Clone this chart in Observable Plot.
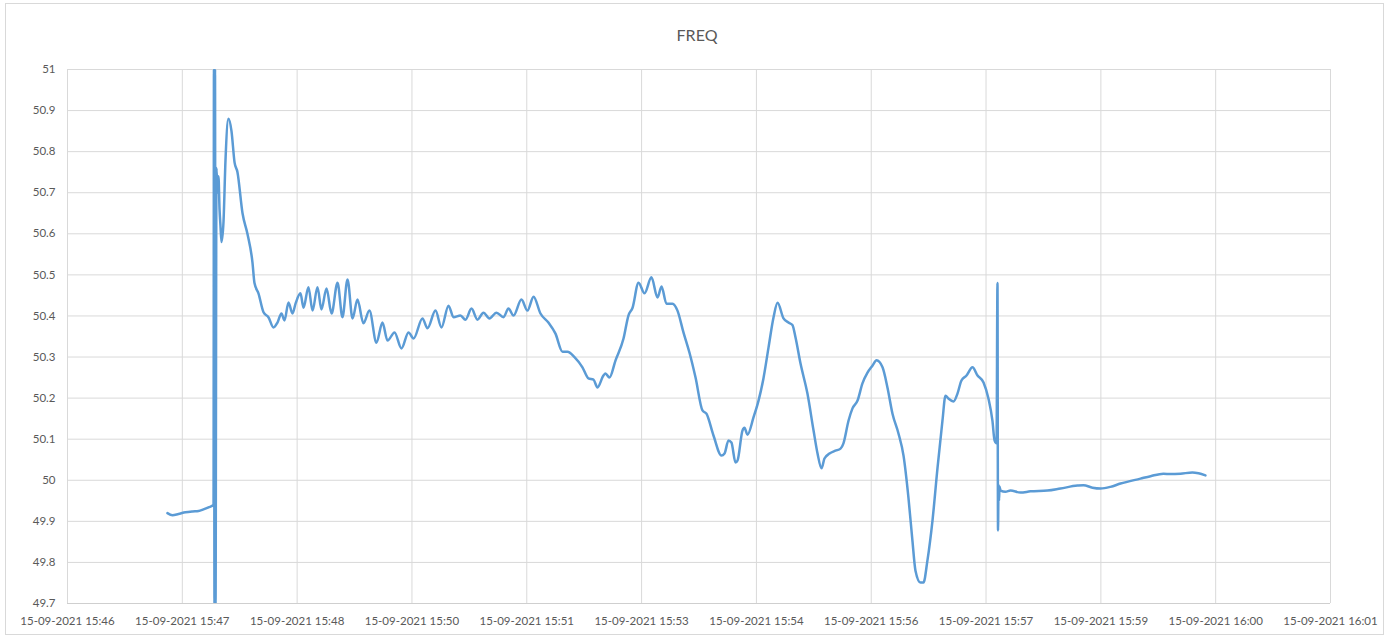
<!DOCTYPE html>
<html><head><meta charset="utf-8">
<script src="https://cdn.jsdelivr.net/npm/d3@7"></script>
<script src="https://cdn.jsdelivr.net/npm/@observablehq/plot@0.6"></script>
<style>
body{margin:0;background:#fff;}
#wrap{position:relative;width:1389px;height:639px;overflow:hidden;font-family:Lato,"Open Sans",sans-serif;}
#border{position:absolute;left:5px;top:3px;width:1379px;height:632px;border:1px solid #d9d9d9;box-sizing:border-box;}
#title{position:absolute;left:0;width:1389px;padding-left:5px;box-sizing:border-box;top:25px;text-align:center;font-size:16px;color:#595959;line-height:19px;}
#chart{position:absolute;left:0;top:0;}
</style></head><body>
<div id="wrap"><div id="border"></div><div id="title"></div><div id="chart"></div></div>
<script>
const chartTitle = "FREQ";
const tickLabels = ["15-09-2021 15:46","15-09-2021 15:47","15-09-2021 15:48","15-09-2021 15:50","15-09-2021 15:51","15-09-2021 15:53","15-09-2021 15:54","15-09-2021 15:56","15-09-2021 15:57","15-09-2021 15:59","15-09-2021 16:00","15-09-2021 16:01"];
// tick positions: seconds after 15:46:00
const tickStart = 6, tickStep = 86.4;
const yTicks = [49.7,49.8,49.9,50,50.1,50.2,50.3,50.4,50.5,50.6,50.7,50.8,50.9,51];
const yTickLabels = ["49.7","49.8","49.9","50","50.1","50.2","50.3","50.4","50.5","50.6","50.7","50.8","50.9","51"];
// time: seconds after 15:46:00 ; freq in Hz
const secs = [81.2,85.0,89.5,94.8,100.1,104.6,108.3,112.1,115.9,116.2,116.6,117.0,117.4,118.1,118.9,119.6,120.4,121.1,121.9,123.4,124.9,127.1,129.4,131.7,133.9,137.7,141.4,145.2,146.7,149.7,153.5,157.2,161.0,164.0,167.0,169.3,172.3,175.3,177.6,181.3,183.6,187.3,190.4,194.1,197.1,200.9,204.7,209.2,212.9,216.7,220.5,224.2,228.7,233.2,238.5,243.0,246.8,252.1,257.3,262.6,266.4,273.1,276.9,282.9,287.4,292.7,296.5,301.7,305.5,310.0,314.5,319.0,323.5,328.8,334.1,337.8,341.6,347.6,352.1,356.7,361.9,367.9,373.2,378.5,382.2,387.5,393.5,398.0,401.8,404.8,409.3,410.8,413.8,418.4,424.4,428.1,431.2,435.7,440.2,445.4,450.0,453.0,456.7,461.3,465.0,469.5,474.0,478.6,483.8,486.8,492.1,498.1,500.4,503.4,505.6,508.7,510.2,513.9,515.4,517.7,522.2,526.0,529.7,533.5,537.3,540.3,544.8,548.5,551.5,553.8,557.6,562.8,567.4,570.4,573.4,575.6,579.4,583.9,587.7,589.9,593.7,596.7,600.5,604.2,608.0,611.7,614.8,619.3,623.0,626.8,631.3,635.1,638.8,641.8,644.1,647.9,650.1,653.1,656.9,660.7,664.4,666.7,668.9,672.7,675.7,678.7,682.5,687.0,690.8,695.3,699.0,702.0,703.6,705.1,705.8,706.2,706.6,707.0,707.3,708.1,711.8,715.6,723.1,730.6,743.4,753.2,766.0,770.5,777.3,783.3,790.8,798.4,813.4,821.0,830.7,836.0,843.5,852.5,857.1,862.3];
const freq = [49.920,49.915,49.918,49.922,49.924,49.925,49.929,49.934,49.940,51.0,49.7,51.0,49.7,50.76,50.70,50.74,50.66,50.62,50.58,50.63,50.78,50.88,50.85,50.774,50.75,50.65,50.60,50.53,50.48,50.455,50.409,50.397,50.372,50.384,50.406,50.389,50.433,50.406,50.43,50.455,50.42,50.47,50.413,50.47,50.416,50.467,50.406,50.481,50.397,50.489,50.394,50.44,50.382,50.413,50.335,50.384,50.34,50.36,50.321,50.36,50.345,50.394,50.37,50.413,50.372,50.425,50.397,50.401,50.391,50.418,50.391,50.408,50.394,50.408,50.397,50.418,50.401,50.44,50.413,50.447,50.406,50.384,50.357,50.313,50.313,50.30,50.275,50.248,50.245,50.226,50.255,50.26,50.25,50.292,50.345,50.401,50.42,50.481,50.455,50.494,50.445,50.472,50.43,50.43,50.413,50.36,50.311,50.25,50.17,50.162,50.109,50.06,50.065,50.097,50.092,50.043,50.048,50.121,50.128,50.111,50.153,50.194,50.248,50.323,50.397,50.432,50.394,50.384,50.378,50.348,50.284,50.211,50.121,50.065,50.029,50.053,50.065,50.072,50.077,50.09,50.145,50.175,50.194,50.236,50.262,50.279,50.292,50.275,50.226,50.162,50.114,50.06,49.958,49.853,49.78,49.751,49.751,49.805,49.902,50.031,50.145,50.206,50.199,50.192,50.211,50.243,50.255,50.275,50.255,50.238,50.199,50.145,50.097,50.09,50.48,49.878,49.99,49.95,49.985,49.975,49.972,49.975,49.97,49.973,49.975,49.98,49.987,49.988,49.982,49.98,49.984,49.992,50.004,50.01,50.016,50.015,50.016,50.019,50.017,50.012];

const data = secs.map((t, i) => ({t, f: freq[i]}));
const xTicks = tickLabels.map((_, i) => tickStart + i * tickStep);
const xDomain = [xTicks[0], xTicks[xTicks.length - 1]];

document.getElementById("title").textContent = chartTitle;

const chart = Plot.plot({
  width: 1389,
  height: 639,
  marginLeft: 67,
  marginRight: 59,
  marginTop: 69,
  marginBottom: 36,
  style: {fontFamily: "Lato, 'Open Sans', sans-serif", fontSize: "11.5px", color: "#595959", background: "transparent"},
  x: {type: "linear", domain: xDomain, ticks: xTicks, tickFormat: d => tickLabels[Math.round((d - tickStart) / tickStep)], tickSize: 0, tickPadding: 13, label: null},
  y: {domain: [49.7, 51], ticks: yTicks, tickFormat: d => yTickLabels[yTicks.findIndex(v => Math.abs(v - d) < 1e-9)], tickSize: 0, tickPadding: 12, label: null},
  marks: [
    Plot.gridX(xTicks, {stroke: "#d9d9d9", strokeOpacity: 1}),
    Plot.gridY(yTicks, {stroke: "#d9d9d9", strokeOpacity: 1}),
    Plot.ruleY([49.7], {stroke: "#cfcfcf"}),
    Plot.line(data, {x: "t", y: "f", stroke: "#5b9bd5", strokeWidth: 2.5, strokeLinejoin: "round", strokeLinecap: "round", curve: "monotone-x", clip: true})
  ]
});
document.getElementById("chart").appendChild(chart);
</script>
</body></html>
